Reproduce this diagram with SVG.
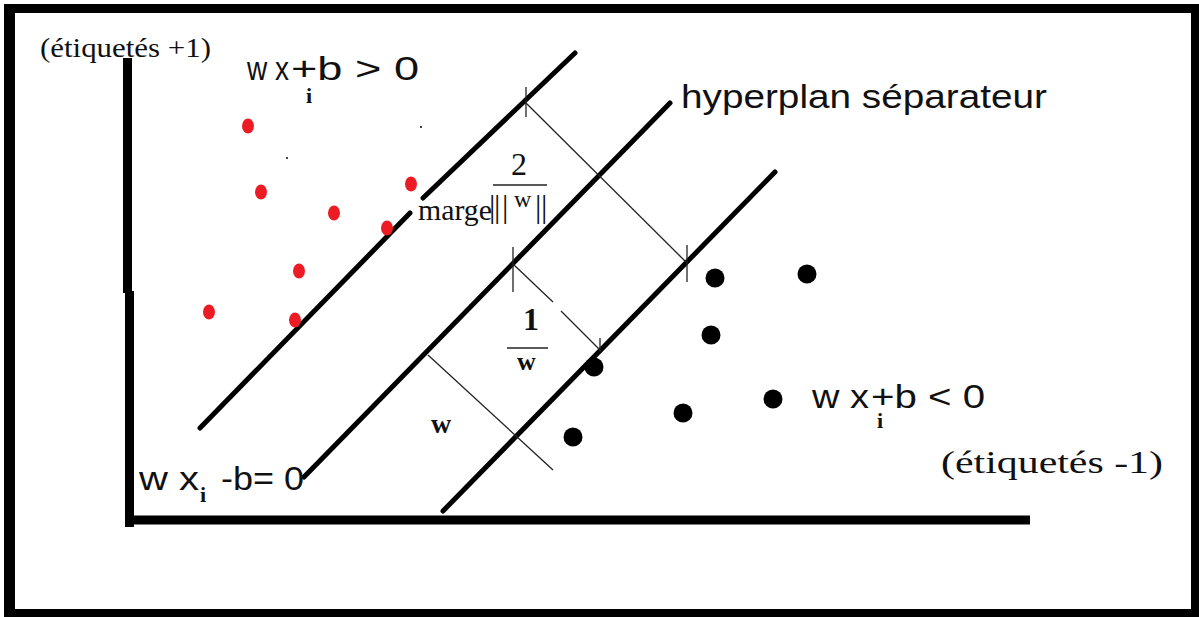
<svg xmlns="http://www.w3.org/2000/svg" width="1199" height="617" viewBox="0 0 1199 617">
<style>
.sans{font-family:"Liberation Sans",Arial,sans-serif;font-size:34px;fill:#111}
.serif{font-family:"Liberation Serif","Times New Roman",serif;fill:#111}
.sub{font-family:"Liberation Serif","Times New Roman",serif;font-size:22px;font-weight:bold;fill:#111}
.thick{stroke:#000;stroke-width:5;stroke-linecap:round;fill:none}
.axis{stroke:#000;stroke-width:9;fill:none}
.thin{stroke:#222;stroke-width:1.3;fill:none}
.red{fill:#ed1c24}
.blk{fill:#000}
</style>
<rect x="0" y="0" width="1199" height="617" fill="#fff"/>
<path d="M4,4 H1199 V617 H4 Z M15,13 V609 H1191 V13 Z" fill="#000" fill-rule="evenodd"/>

<g id="axes">
<line class="axis" x1="127.5" y1="58" x2="127.5" y2="293"/>
<line class="axis" x1="129.5" y1="291" x2="129.5" y2="527"/>
<line class="axis" x1="125" y1="520" x2="1030" y2="520"/>
</g>

<g id="connectors">
<line class="thick" x1="200" y1="428" x2="410" y2="213"/>
<line class="thick" x1="423" y1="198" x2="575" y2="53"/>
<line class="thick" x1="304" y1="477" x2="670" y2="103"/>
<line class="thick" x1="443" y1="511" x2="775" y2="172"/>
<line class="thin" x1="526" y1="103" x2="686" y2="262"/>
<line class="thin" x1="526" y1="87" x2="526" y2="117"/>
<line class="thin" x1="687" y1="245" x2="687" y2="282"/>
<line class="thin" x1="513" y1="264" x2="553" y2="302"/>
<line class="thin" x1="561" y1="311" x2="600" y2="350"/>
<line class="thin" x1="513" y1="247" x2="513" y2="292"/>
<line class="thin" x1="600" y1="338" x2="600" y2="352"/>
<line class="thin" x1="428" y1="355" x2="553" y2="470"/>
<line class="thin" x1="493" y1="185" x2="547" y2="185"/>
<line class="thin" x1="507" y1="348" x2="548" y2="348"/>
</g>

<g id="positive-points">
<ellipse class="red" cx="248" cy="126" rx="6" ry="7.5"/>
<ellipse class="red" cx="261" cy="192" rx="6" ry="7.5"/>
<ellipse class="red" cx="334" cy="213" rx="6" ry="7.5"/>
<ellipse class="red" cx="387" cy="228" rx="6" ry="7.5"/>
<ellipse class="red" cx="411" cy="184" rx="6" ry="7.5"/>
<ellipse class="red" cx="299" cy="271" rx="6" ry="7.5"/>
<ellipse class="red" cx="209" cy="312" rx="6" ry="7.5"/>
<ellipse class="red" cx="295" cy="320" rx="6" ry="7.5"/>
<rect x="286" y="157" width="2" height="2" fill="#444"/>
<rect x="420" y="126" width="2" height="2" fill="#444"/>
</g>

<g id="negative-points">
<circle class="blk" cx="715" cy="278" r="9.5"/>
<circle class="blk" cx="807" cy="274" r="9.5"/>
<circle class="blk" cx="711" cy="335" r="9.5"/>
<circle class="blk" cx="594" cy="367" r="9.5"/>
<circle class="blk" cx="773" cy="399" r="9.5"/>
<circle class="blk" cx="683" cy="413" r="9.5"/>
<circle class="blk" cx="573" cy="437" r="9.5"/>
</g>

<g id="label-positive">
<text class="serif" x="40" y="57" font-size="27" textLength="171" lengthAdjust="spacingAndGlyphs">(étiquetés +1)</text>
</g>

<g id="label-eq-positive">
<text class="sans" x="247" y="80" textLength="42" lengthAdjust="spacingAndGlyphs">w x</text>
<text class="sub" x="306" y="103">i</text>
<text class="sans" x="291" y="80" textLength="128" lengthAdjust="spacingAndGlyphs">+b &gt; 0</text>
</g>

<g id="label-hyperplan">
<text class="sans" x="681" y="108" textLength="366" lengthAdjust="spacingAndGlyphs">hyperplan séparateur</text>
</g>

<g id="label-marge">
<text class="serif" x="418" y="220" font-size="30" textLength="74" lengthAdjust="spacingAndGlyphs">marge</text>
<text class="serif" x="511" y="175" font-size="32">2</text>
<text class="serif" x="489 494 502 535 541" y="217" font-size="32">|||||</text>
<text class="serif" x="514" y="207" font-size="24">w</text>
</g>

<g id="label-one-over-w">
<text class="serif" x="523" y="330" font-size="32" font-weight="bold">1</text>
<text class="serif" x="517" y="370" font-size="26" font-weight="bold">w</text>
</g>

<g id="label-w">
<text class="serif" x="431" y="433" font-size="28" font-weight="bold">w</text>
</g>

<g id="label-eq-zero">
<text class="sans" x="139" y="490" textLength="60" lengthAdjust="spacingAndGlyphs">w x</text>
<text class="sub" x="200" y="502">i</text>
<text class="sans" x="221" y="490" textLength="83" lengthAdjust="spacingAndGlyphs">-b= 0</text>
</g>

<g id="label-eq-negative">
<text class="sans" x="812" y="408" textLength="57" lengthAdjust="spacingAndGlyphs">w x</text>
<text class="sub" x="877" y="428">i</text>
<text class="sans" x="871" y="408" textLength="114" lengthAdjust="spacingAndGlyphs">+b &lt; 0</text>
</g>

<g id="label-negative">
<text class="serif" x="941" y="473" font-size="31" textLength="222" lengthAdjust="spacingAndGlyphs">(étiquetés -1)</text>
</g>
</svg>
